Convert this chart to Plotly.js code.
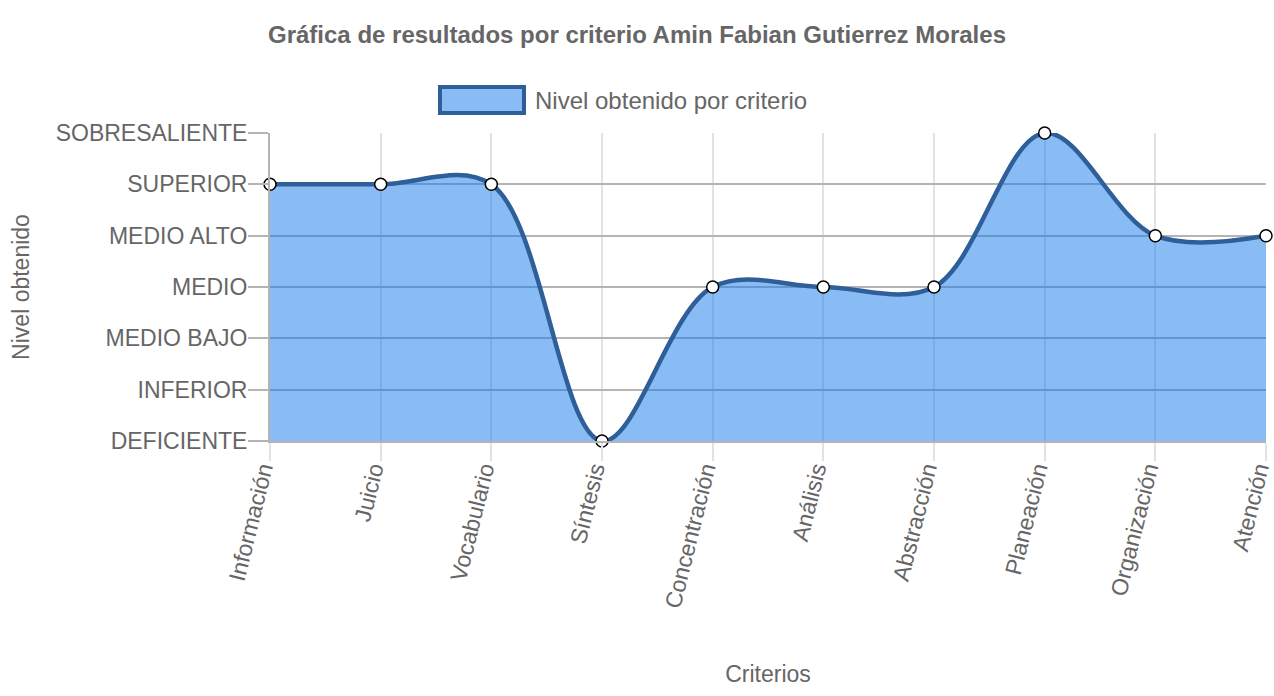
<!DOCTYPE html>
<html>
<head>
<meta charset="utf-8">
<script src="https://cdn.plot.ly/plotly-3.0.1.min.js"></script>
<style>html,body{margin:0;padding:0;background:#fff;}#chart{width:1274px;height:696px;}</style>
</head>
<body>
<div id="chart"></div>
<script>
const criterios = ["Información","Juicio","Vocabulario","Síntesis","Concentración","Análisis","Abstracción","Planeación","Organización","Atención"];
const niveles = [5, 5, 5, 0, 3, 3, 3, 6, 4, 4];
const nivelLabels = ["DEFICIENTE","INFERIOR","MEDIO BAJO","MEDIO","MEDIO ALTO","SUPERIOR","SOBRESALIENTE"];
const nivelValues = [0, 1, 2, 3, 4, 5, 6];
const seriesName = "Nivel obtenido por criterio";

const font = "'Liberation Sans', Arial, Helvetica, sans-serif";
const txt = "#666666";

const trace = {
  type: "scatter",
  mode: "lines+markers",
  x: criterios,
  y: niveles,
  name: seriesName,
  showlegend: false,
  fill: "tozeroy",
  fillcolor: "rgba(20,120,235,0.5)",
  line: {color: "#2f5f98", width: 4.5, shape: "spline", smoothing: 1},
  marker: {size: 12, color: "#ffffff", line: {color: "#000000", width: 1.5}},
  cliponaxis: false,
  hoverinfo: "x+y"
};

const layout = {
  width: 1274, height: 696,
  margin: {l: 270, r: 8, t: 133, b: 255},
  paper_bgcolor: "#ffffff", plot_bgcolor: "#ffffff",
  font: {family: font, color: txt, size: 23},
  title: {text: "<b>Gráfica de resultados por criterio Amin Fabian Gutierrez Morales</b>",
          font: {family: font, size: 24, color: txt},
          x: 0.5, xanchor: "center", y: 1 - 35/696, yanchor: "middle", xref: "container", yref: "container"},
  xaxis: {
    type: "category", range: [0, criterios.length - 1],
    showgrid: true, gridcolor: "#e2e2e2", gridwidth: 2,
    ticks: "outside", ticklen: 18, tickwidth: 2, tickcolor: "#e2e2e2",
    tickangle: -76, tickfont: {family: font, size: 23, color: txt},
    ticklabelstandoff: -14, ticklabelshift: -8,
    showline: true, linecolor: "#b4b4b4", linewidth: 2,
    zeroline: false,
    title: {text: "Criterios", font: {family: font, size: 23, color: txt}, standoff: 56}
  },
  yaxis: {
    range: [0, 6],
    tickmode: "array", tickvals: nivelValues, ticktext: nivelLabels,
    showgrid: true, gridcolor: "#b4b4b4", gridwidth: 2,
    ticks: "outside", ticklen: 20, tickwidth: 2, tickcolor: "#b4b4b4",
    tickfont: {family: font, size: 23, color: txt},
    ticklabelstandoff: -4,
    showline: true, linecolor: "#b4b4b4", linewidth: 2,
    zeroline: false,
    title: {text: "Nivel obtenido", font: {family: font, size: 23, color: txt}, standoff: 20}
  },
  shapes: [{
    type: "rect", xref: "paper", yref: "paper",
    x0: (440 - 270) / 996, x1: (524 - 270) / 996,
    y0: (441 - 113) / 308, y1: (441 - 87) / 308,
    fillcolor: "rgba(20,120,235,0.5)",
    line: {color: "#2f5f98", width: 4}
  }],
  annotations: [{
    text: seriesName, xref: "paper", yref: "paper",
    x: (533 - 270) / 996, y: (441 - 101) / 308,
    xanchor: "left", yanchor: "middle", showarrow: false,
    font: {family: font, size: 24, color: txt}
  }]
};

Plotly.newPlot("chart", [trace], layout, {displayModeBar: false, responsive: false});
</script>
</body>
</html>
